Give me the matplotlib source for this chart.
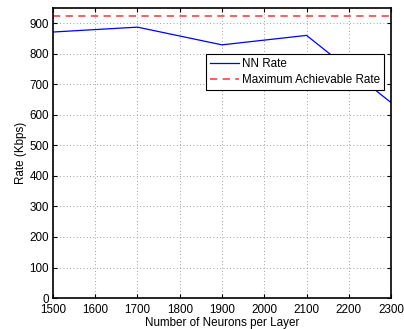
import matplotlib
matplotlib.use("Agg")
import matplotlib.pyplot as plt

# Data
neurons = [1500, 1700, 1900, 2100, 2300]
nn_rate = [871, 887, 829, 860, 640]
max_rate = 923
x_ticks = [1500, 1600, 1700, 1800, 1900, 2000, 2100, 2200, 2300]
y_ticks = [0, 100, 200, 300, 400, 500, 600, 700, 800, 900]

plt.rcParams['font.family'] = ['Liberation Sans', 'DejaVu Sans']
FS = 8.4

fig = plt.figure(figsize=(4.04, 3.29), dpi=100)
ax = fig.add_axes([0.131, 0.094, 0.837, 0.882])

ax.plot(neurons, nn_rate, color='#0000ff', lw=0.9, label='NN Rate')
ax.axhline(max_rate, color='#ff5050', lw=1.3, ls=(0, (4, 3)), label='Maximum Achievable Rate')

ax.set_xlim(1500, 2300)
ax.set_ylim(0, 950)
ax.set_xticks(x_ticks)
ax.set_yticks(y_ticks)
ax.tick_params(direction='in', top=True, right=True, labelsize=FS, length=3, width=0.8)
ax.tick_params(axis='x', pad=4)
ax.tick_params(axis='y', pad=3)
for s in ax.spines.values():
    s.set_linewidth(1.2)
ax.grid(True, ls=(0, (1, 3)), color='#808080', lw=0.6)

ax.set_xlabel('Number of Neurons per Layer', fontsize=FS, labelpad=1)
ax.set_ylabel('Rate (Kbps)', fontsize=FS, labelpad=1.5)

leg = ax.legend(loc='upper right', bbox_to_anchor=(0.979, 0.841), fontsize=FS,
                frameon=True, fancybox=False, edgecolor='black', framealpha=1,
                borderpad=0.35, labelspacing=0.3, handlelength=2.5, handletextpad=0.2,
                borderaxespad=0)
leg.get_frame().set_linewidth(0.8)

fig.savefig('out.png', dpi=100)
